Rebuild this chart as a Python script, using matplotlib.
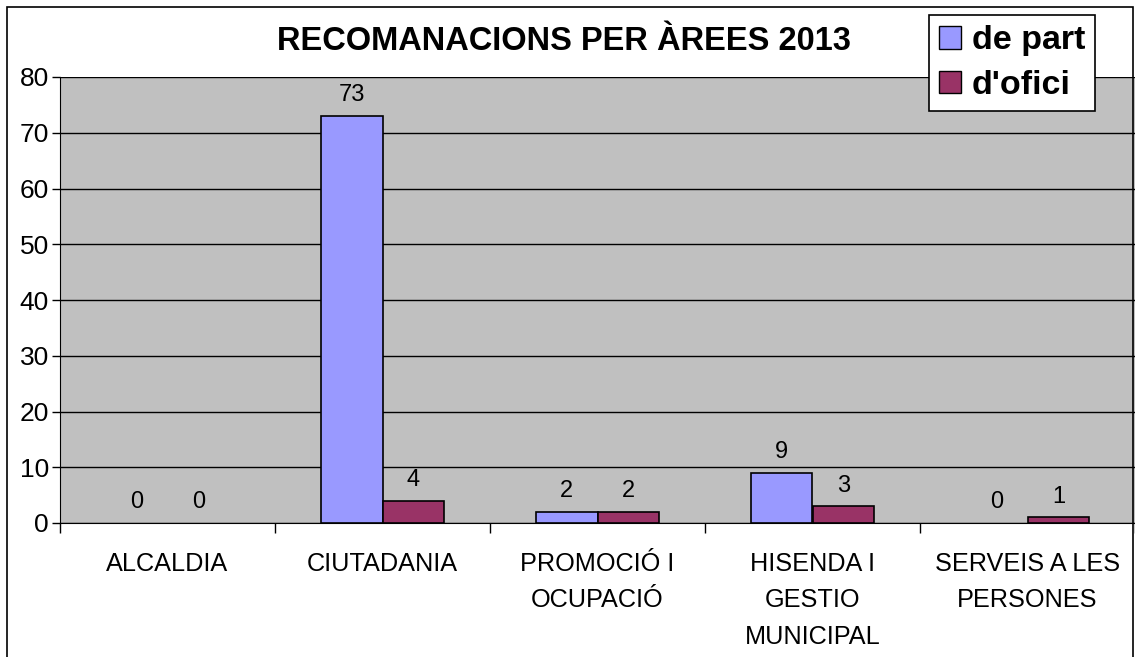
import matplotlib
matplotlib.use("Agg")
import matplotlib.pyplot as plt
import numpy as np
from matplotlib.patches import Rectangle, Patch

categories = ["ALCALDIA", "CIUTADANIA", "PROMOCIÓ I\nOCUPACIÓ", "HISENDA I\nGESTIO\nMUNICIPAL", "SERVEIS A LES\nPERSONES"]
de_part = [0, 73, 2, 9, 0]
d_ofici = [0, 4, 2, 3, 1]
series_names = ["de part", "d'ofici"]
title = "RECOMANACIONS PER ÀREES 2013"
yticks = [0, 10, 20, 30, 40, 50, 60, 70, 80]

plt.rcParams['font.family'] = ['Liberation Sans', 'DejaVu Sans']

W, H = 1135, 657
fig = plt.figure(figsize=(W/100, H/100), dpi=100)
fig.patch.set_facecolor("white")

ax = fig.add_axes([60/W, 1-523/H, (1135-60)/W, (523-77)/H])
ax.set_facecolor("#C0C0C0")

x = np.arange(len(categories))
bw = 0.288
lw1 = [1.2 if v > 0 else 0 for v in de_part]
lw2 = [1.2 if v > 0 else 0 for v in d_ofici]
b1 = ax.bar(x - bw/2, de_part, bw, color="#9999FF", edgecolor="black", linewidth=lw1, zorder=3)
b2 = ax.bar(x + bw/2, d_ofici, bw, color="#993366", edgecolor="black", linewidth=lw2, zorder=3)

for bars, vals in ((b1, de_part), (b2, d_ofici)):
    for rect, v in zip(bars, vals):
        ax.annotate(str(v), (rect.get_x() + rect.get_width()/2, v), xytext=(0, 7),
                    textcoords="offset points", ha="center", va="bottom", fontsize=17)

ax.set_xlim(-0.5, len(categories) - 0.5)
ax.set_ylim(0, 80)
ax.set_yticks(yticks)
ax.set_yticklabels([str(t) for t in yticks], fontsize=19)
ax.yaxis.grid(True, color="black", linewidth=1)
ax.set_axisbelow(True)
ax.tick_params(axis="y", length=6, width=1, pad=2)

ax.set_xticks(np.arange(len(categories) + 1) - 0.5)
ax.set_xticklabels([])
ax.tick_params(axis="x", length=7, width=1)
for i, c in enumerate(categories):
    ax.text(i, -0.065, c, transform=ax.get_xaxis_transform(), ha="center", va="top",
            fontsize=18.2, linespacing=1.65)

for s in ["top", "right"]:
    ax.spines[s].set_visible(False)
ax.spines["left"].set_color("black")
ax.spines["bottom"].set_color("black")

fig.text(564/W, 1-42/H, title, ha="center", va="center", fontsize=23.5, fontweight="bold")

handles = [Patch(facecolor="#9999FF", edgecolor="black"), Patch(facecolor="#993366", edgecolor="black")]
leg = fig.legend(handles, series_names, loc="upper left", bbox_to_anchor=(929/W, 1-15/H),
                 prop={"size": 24.5, "weight": "bold"}, frameon=True, fancybox=False,
                 handlelength=0.65, handleheight=0.65, handletextpad=0.3, borderpad=0.3,
                 labelspacing=0.4, borderaxespad=0)
leg.get_frame().set_edgecolor("black")
leg.get_frame().set_linewidth(1.2)
leg.get_frame().set_alpha(1)

fig.patches.append(Rectangle((7/W, -0.1), (1133-7)/W, 1.1 - 7/H + 0.0, transform=fig.transFigure,
                             fill=False, edgecolor="black", linewidth=1.2))

fig.savefig("out.png", dpi=100)
